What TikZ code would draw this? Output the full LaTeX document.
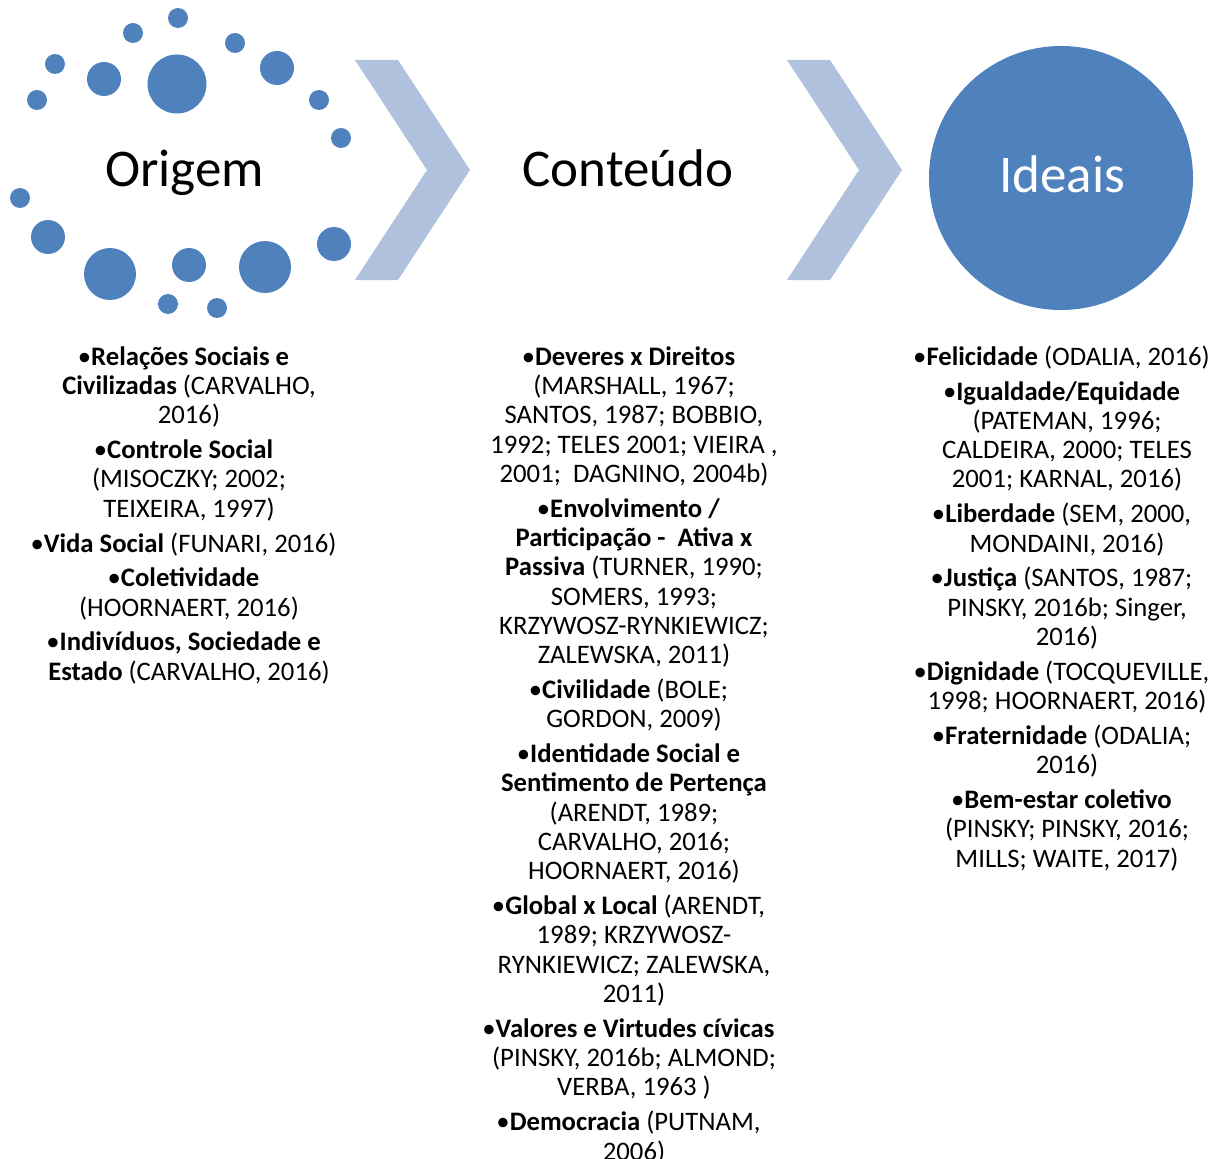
\documentclass[tikz,border=0pt]{standalone}
\usepackage{fontspec}
\setmainfont{Carlito}
\definecolor{dotblue}{HTML}{4F81BD}
\definecolor{chev}{HTML}{B0C1DE}
\newcommand\bl[1]{•#1\hbox to 11pt{}}
\begin{document}
\begin{tikzpicture}[x=1pt,y=-1pt,
  dot/.style={circle,fill=dotblue,inner sep=0pt,minimum size=#1},
  title/.style={font=\fontsize{53}{60}\selectfont,anchor=base,inner sep=0pt},
  col/.style={font=\fontsize{26.7}{29.3}\selectfont,align=center,anchor=north,inner sep=0pt},
  chevron/.style={fill=chev,draw=none}]
\useasboundingbox (0,0) rectangle (1222,1158);
% dots
\node[dot=20pt] (d1) at (178,18) {};
\node[dot=20pt] (d2) at (133,33) {};
\node[dot=20pt] (d3) at (235,43) {};
\node[dot=20pt] (d4) at (55,64) {};
\node[dot=34pt] (d5) at (104,79) {};
\node[dot=59pt] (d6) at (177,84) {};
\node[dot=34pt] (d7) at (277,68) {};
\node[dot=20pt] (d8) at (37,100) {};
\node[dot=20pt] (d9) at (319,100) {};
\node[dot=20pt] (d10) at (341,138) {};
\node[dot=20pt] (d11) at (20,198) {};
\node[dot=34pt] (d12) at (48,237) {};
\node[dot=52pt] (d13) at (110,274) {};
\node[dot=34pt] (d14) at (189,265) {};
\node[dot=52pt] (d15) at (265,267) {};
\node[dot=34pt] (d16) at (334,244) {};
\node[dot=20pt] (d17) at (168,304) {};
\node[dot=20pt] (d18) at (217,308) {};
% chevrons
\fill[chevron] (355,60) -- (398,60) -- (470,170) -- (398,280) -- (355,280) -- (427,170) -- cycle;
\fill[chevron] (787,60) -- (830,60) -- (902,170) -- (830,280) -- (787,280) -- (859,170) -- cycle;
% ideais circle
\node[circle,fill=dotblue,inner sep=0pt,minimum size=264pt] (ideaisc) at (1061,178) {};
% titles
\node[title] (origem) at (184.5,187) {Origem};
\node[title] (conteudo) at (628,187) {Conteúdo};
\node[title,text=white] (ideais) at (1062,193) {Ideais};
% columns
\node[col] (colA) at (189,344.5) {\strut\bl{\textbf{Relações Sociais e}}\\
\textbf{Civilizadas} (CARVALHO,\\
2016)\\[5.5pt]
\bl{\textbf{Controle Social}}\\
(MISOCZKY; 2002;\\
TEIXEIRA, 1997)\\[5.5pt]
\bl{\textbf{Vida Social} (FUNARI, 2016)}\\[5.5pt]
\bl{\textbf{Coletividade}}\\
(HOORNAERT, 2016)\\[5.5pt]
\bl{\textbf{Indivíduos, Sociedade e}}\\
\textbf{Estado} (CARVALHO, 2016)};
\node[col] (colB) at (634,344.5) {\strut\bl{\textbf{Deveres x Direitos}}\\
(MARSHALL, 1967;\\
SANTOS, 1987; BOBBIO,\\
1992; TELES 2001; VIEIRA ,\\
2001;\ \ DAGNINO, 2004b)\\[5.5pt]
\bl{\textbf{Envolvimento /}}\\
\textbf{Participação -\ \ Ativa x}\\
\textbf{Passiva} (TURNER, 1990;\\
SOMERS, 1993;\\
KRZYWOSZ-RYNKIEWICZ;\\
ZALEWSKA, 2011)\\[5.5pt]
\bl{\textbf{Civilidade} (BOLE;}\\
GORDON, 2009)\\[5.5pt]
\bl{\textbf{Identidade Social e}}\\
\textbf{Sentimento de Pertença}\\
(ARENDT, 1989;\\
CARVALHO, 2016;\\
HOORNAERT, 2016)\\[5.5pt]
\bl{\textbf{Global x Local} (ARENDT,}\\
1989; KRZYWOSZ-\\
RYNKIEWICZ; ZALEWSKA,\\
2011)\\[5.5pt]
\bl{\textbf{Valores e Virtudes cívicas}}\\
(PINSKY, 2016b; ALMOND;\\
VERBA, 1963 )\\[5.5pt]
\bl{\textbf{Democracia} (PUTNAM,}\\
2006)};
\node[col] (colC) at (1067,344.5) {\strut\bl{\textbf{Felicidade} (ODALIA, 2016)}\\[5.5pt]
\bl{\textbf{Igualdade/Equidade}}\\
(PATEMAN, 1996;\\
CALDEIRA, 2000; TELES\\
2001; KARNAL, 2016)\\[5.5pt]
\bl{\textbf{Liberdade} (SEM, 2000,}\\
MONDAINI, 2016)\\[5.5pt]
\bl{\textbf{Justiça} (SANTOS, 1987;}\\
PINSKY, 2016b; Singer,\\
2016)\\[5.5pt]
\bl{\textbf{Dignidade} (TOCQUEVILLE,}\\
1998; HOORNAERT, 2016)\\[5.5pt]
\bl{\textbf{Fraternidade} (ODALIA;}\\
2016)\\[5.5pt]
\bl{\textbf{Bem-estar coletivo}}\\
(PINSKY; PINSKY, 2016;\\
MILLS; WAITE, 2017)};
\end{tikzpicture}
\end{document}
